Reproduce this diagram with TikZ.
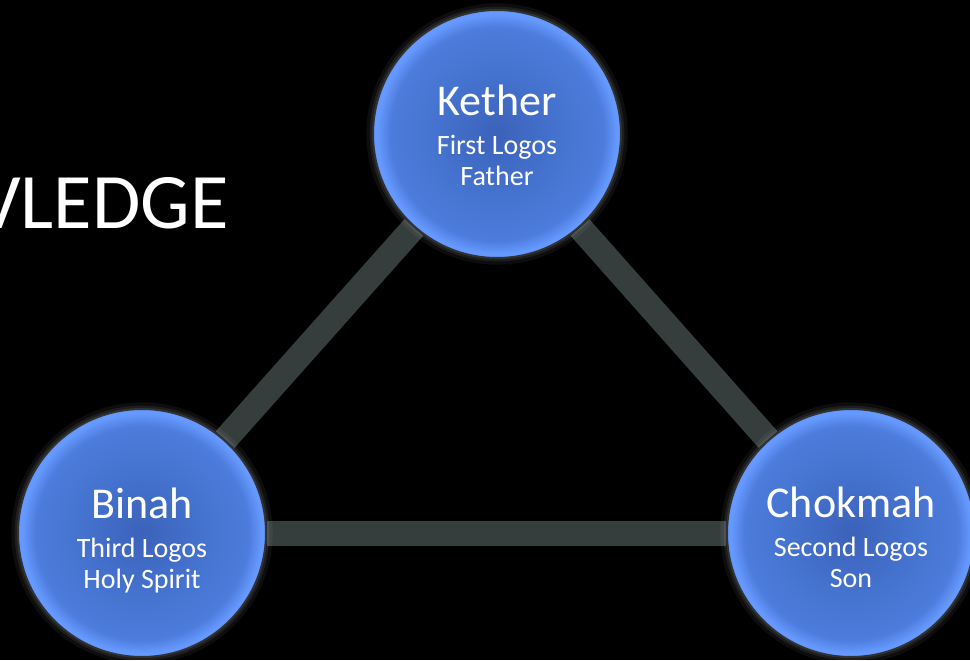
\documentclass[tikz,border=0pt]{standalone}
\usepackage{fontspec}
\setmainfont{Carlito}
\usetikzlibrary{backgrounds}

\definecolor{orbin}{RGB}{60,98,186}
\definecolor{orbmid}{RGB}{68,114,206}
\definecolor{orbmidb}{RGB}{76,124,220}
\definecolor{orbout}{RGB}{102,153,255}
\definecolor{orbrim}{RGB}{48,50,52}
\definecolor{linkgray}{RGB}{54,61,61}
\pgfdeclareradialshading{orbshade}{\pgfpoint{0bp}{0bp}}{color(0bp)=(orbin); color(12bp)=(orbmid); color(21.5bp)=(orbmidb); color(24.2bp)=(orbout); color(50bp)=(orbout)}

% title line of an orb, #1 = height kept above its baseline
\newcommand\orbtitle[2][30pt]{{\fontsize{33}{38}\selectfont\smash{#2}\rule{0pt}{#1}}\\[6pt]}

\begin{document}
\begin{tikzpicture}[x=0.75pt,y=-0.75pt,
  orb/.style={circle,minimum size=186pt,inner sep=0pt,shading=orbshade,
    draw=orbrim,line width=1.5pt,text=white,align=center,text depth=0pt,
    font=\fontsize{21}{23.25}\selectfont,
    preaction={draw=white,line width=10pt,opacity=0.05},
    preaction={draw=white,line width=5pt,opacity=0.07}},
  link/.style={draw=linkgray,line width=18.75pt}]
  \useasboundingbox (0,0) rectangle (970,660);

  \node[orb] (kether) at (497,134) {\orbtitle[24pt]{Kether}First Logos\\Father};
  \node[orb] (binah) at (142,533) {\orbtitle{Binah}Third Logos\\Holy Spirit};
  \node[orb] (chokmah) at (851,533) {\orbtitle[29pt]{Chokmah}Second Logos\\Son};

  \node[anchor=base east,text=white,font=\fontsize{59}{66}\selectfont,inner sep=0pt]
    (heading) at (229,228) {VLEDGE};

  \begin{scope}[on background layer]
    \fill[black] (0,0) rectangle (970,660);
    \path[link]
    (kether) edge (binah)
    (kether) edge (chokmah)
    (binah) edge (chokmah)
    ;
  \end{scope}
\end{tikzpicture}
\end{document}
